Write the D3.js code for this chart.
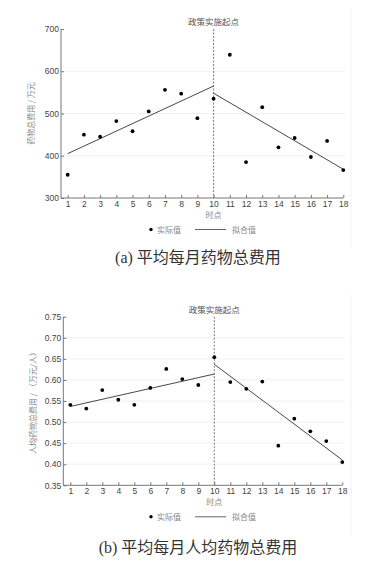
<!DOCTYPE html>
<html>
<head>
<meta charset="utf-8">
<script src="https://cdn.jsdelivr.net/npm/d3@7"></script>
<style>
  body { margin: 0; background: #fff; }
  svg { display: block; }
</style>
</head>
<body>
<script>
// time points 1..18
var timePoints = d3.range(1, 19);

// (a) average monthly drug cost, 10k yuan
var costActual = [355, 450, 445, 482, 458, 505, 556, 547, 489, 535, 639, 385, 515, 420, 442, 397, 435, 366];
var costFitPre = [[1, 405], [10, 565]];
var costFitPost = [[10, 548], [18, 368]];
var costTicks = [300, 400, 500, 600, 700];

// (b) average monthly drug cost per person, 10k yuan / person
var perActual = [0.541, 0.532, 0.576, 0.553, 0.541, 0.581, 0.626, 0.602, 0.588, 0.654, 0.595, 0.579, 0.596, 0.444, 0.508, 0.478, 0.455, 0.405];
var perFitPre = [[1, 0.537], [10, 0.614]];
var perFitPost = [[10, 0.637], [18, 0.410]];
var perTicks = [0.35, 0.40, 0.45, 0.50, 0.55, 0.60, 0.65, 0.70, 0.75];

var policyPoint = 10;
var policyLabel = '政策实施起点';
var xLabel = '时点';
var legendLabels = ['实际值', '拟合值'];

var cjk = '"Noto Sans CJK SC", sans-serif';
var sans = '"Liberation Sans", Arial, sans-serif';

var svg = d3.select('body').append('svg')
    .attr('width', 392)
    .attr('height', 577);

function drawPanel(o) {
  var g = svg.append('g');

  var x = d3.scaleLinear().domain([1, 18]).range([o.x0, o.x1]);
  var y = d3.scaleLinear().domain(o.domain).range([o.y1, o.y0]);

  // faint right border of the panel
  g.append('line')
    .attr('x1', 351).attr('x2', 351)
    .attr('y1', o.boxTop).attr('y2', o.boxBottom)
    .attr('stroke', '#f2f2f2').attr('stroke-width', 1);

  // grid lines
  g.selectAll('.grid')
    .data(o.ticks.slice(1, -1))
    .enter().append('line')
    .attr('x1', o.axisX).attr('x2', x(18) + 2)
    .attr('y1', function(d) { return y(d); })
    .attr('y2', function(d) { return y(d); })
    .attr('stroke', '#eef1f1').attr('stroke-width', 1);

  // y axis
  var yAxis = g.append('g')
    .attr('transform', 'translate(' + o.axisX + ',0)')
    .call(d3.axisLeft(y).tickValues(o.ticks).tickFormat(o.fmt).tickSize(-3).tickPadding(2));

  // x axis
  var xAxis = g.append('g')
    .attr('transform', 'translate(0,' + o.y1 + ')')
    .call(d3.axisBottom(x).tickValues(timePoints).tickSize(-3).tickPadding(2.5));

  [yAxis, xAxis].forEach(function(a) {
    a.select('.domain').attr('stroke', '#777').attr('stroke-width', 1);
    a.selectAll('.tick line').attr('stroke', '#777');
    a.selectAll('text').attr('fill', '#444').style('font-family', sans).style('font-size', '8.5px');
  });
  yAxis.select('.domain').attr('d', 'M0,' + o.y0 + 'V' + o.y1);
  xAxis.select('.domain').attr('d', 'M' + o.axisX + ',0H' + x(18));

  // policy line
  g.append('line')
    .attr('x1', x(policyPoint)).attr('x2', x(policyPoint))
    .attr('y1', o.y0).attr('y2', o.y1)
    .attr('stroke', '#555').attr('stroke-width', 0.8)
    .attr('stroke-dasharray', '2,1.5');

  g.append('text')
    .attr('x', x(policyPoint)).attr('y', o.y0 - 4)
    .attr('text-anchor', 'middle')
    .attr('fill', '#555')
    .style('font-family', cjk).style('font-size', '8.5px')
    .text(policyLabel);

  // fitted lines
  var line = d3.line()
    .x(function(d) { return x(d[0]); })
    .y(function(d) { return y(d[1]); });
  [o.fitPre, o.fitPost].forEach(function(seg) {
    g.append('path')
      .attr('d', line(seg))
      .attr('fill', 'none')
      .attr('stroke', '#333')
      .attr('stroke-width', 0.9);
  });

  // actual values
  g.selectAll('.dot')
    .data(o.actual)
    .enter().append('circle')
    .attr('cx', function(d, i) { return x(timePoints[i]); })
    .attr('cy', function(d) { return y(d); })
    .attr('r', 1.9)
    .attr('fill', '#000');

  // axis titles
  g.append('text')
    .attr('transform', 'translate(' + (o.axisX - 27) + ',' + ((o.y0 + o.y1) / 2) + ') rotate(-90)')
    .attr('text-anchor', 'middle')
    .attr('fill', '#888')
    .style('font-family', cjk).style('font-size', '8px')
    .text(o.yLabel);

  g.append('text')
    .attr('x', x(policyPoint)).attr('y', o.y1 + 19.5)
    .attr('text-anchor', 'middle')
    .attr('fill', '#888')
    .style('font-family', cjk).style('font-size', '8px')
    .text(xLabel);

  // legend
  var ly = o.y1 + 31.5;
  g.append('circle').attr('cx', 151).attr('cy', ly).attr('r', 1.7).attr('fill', '#000');
  g.append('text').attr('x', 157).attr('y', ly + 3)
    .attr('fill', '#888').style('font-family', cjk).style('font-size', '8px')
    .text(legendLabels[0]);
  g.append('line').attr('x1', 195).attr('x2', 226).attr('y1', ly).attr('y2', ly)
    .attr('stroke', '#555').attr('stroke-width', 0.9);
  g.append('text').attr('x', 232).attr('y', ly + 3)
    .attr('fill', '#888').style('font-family', cjk).style('font-size', '8px')
    .text(legendLabels[1]);

  // caption
  g.append('text')
    .attr('x', 198).attr('y', o.captionY)
    .attr('text-anchor', 'middle')
    .attr('fill', '#333')
    .style('font-family', '"Liberation Serif", "Noto Sans CJK SC", serif')
    .style('font-size', '16px')
    .text(o.caption);
}

drawPanel({
  actual: costActual, fitPre: costFitPre, fitPost: costFitPost,
  ticks: costTicks, domain: [300, 700], fmt: d3.format('d'),
  x0: 67.7, x1: 343.3, y0: 29, y1: 198, axisX: 61,
  boxTop: 8, boxBottom: 247,
  yLabel: '药物总费用 / 万元',
  caption: '(a) 平均每月药物总费用', captionY: 263
});

drawPanel({
  actual: perActual, fitPre: perFitPre, fitPost: perFitPost,
  ticks: perTicks, domain: [0.35, 0.75], fmt: d3.format('.2f'),
  x0: 70.3, x1: 342.3, y0: 316.7, y1: 485.3, axisX: 63.3,
  boxTop: 295, boxBottom: 535,
  yLabel: '人均药物总费用 / （万元/人）',
  caption: '(b) 平均每月人均药物总费用', captionY: 553
});
</script>
</body>
</html>
